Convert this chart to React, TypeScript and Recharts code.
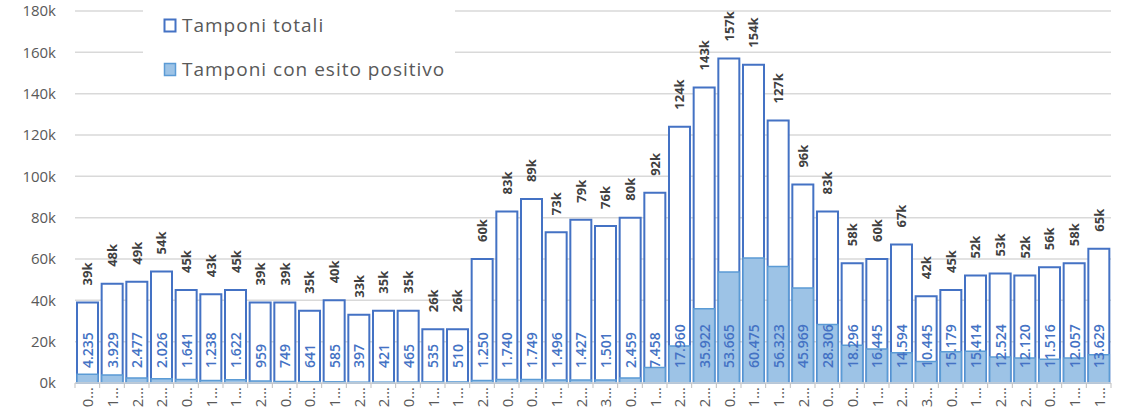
import React from "react";
import {
  BarChart,
  Bar,
  XAxis,
  YAxis,
  CartesianGrid,
  Legend,
  LabelList,
} from "recharts";

// etichette asse x (troncate come nel grafico originale)
const categories = [
  "0…", "1…", "2…", "2…", "0…", "1…", "1…", "2…", "0…", "0…", "1…", "2…", "2…", "0…",
  "1…", "1…", "2…", "0…", "0…", "1…", "2…", "3…", "0…", "1…", "2…", "2…", "0…", "1…",
  "1…", "2…", "0…", "0…", "1…", "2…", "3…", "0…", "1…", "2…", "2…", "0…", "1…", "1…",
];

// tamponi totali (migliaia)
const totali = [
  39, 48, 49, 54, 45, 43, 45, 39, 39, 35, 40, 33, 35, 35, 26, 26, 60, 83, 89, 73, 79,
  76, 80, 92, 124, 143, 157, 154, 127, 96, 83, 58, 60, 67, 42, 45, 52, 53, 52, 56, 58, 65,
];

// tamponi con esito positivo
const positivi = [
  4235, 3929, 2477, 2026, 1641, 1238, 1622, 959, 749, 641, 585, 397, 421, 465, 535, 510,
  1250, 1740, 1749, 1496, 1427, 1501, 2459, 7458, 17960, 35922, 53665, 60475, 56323,
  45969, 28306, 18296, 16445, 14594, 10445, 15179, 15414, 12524, 12120, 11516, 12057, 13629,
];

const yTicks = [0, 20000, 40000, 60000, 80000, 100000, 120000, 140000, 160000, 180000];

const data = categories.map((cat, i) => ({
  cat,
  totale: totali[i] * 1000,
  positivo: positivi[i],
}));

const FONT = "'Open Sans', sans-serif";
const W = 1127;
const H = 408;
const LEFT = 75;
const RIGHT = 16;
const band = (W - LEFT - RIGHT) / categories.length;

const fmtIt = (v: number) => String(v).replace(/\B(?=(\d{3})+(?!\d))/g, ".");

const XTick = (props: any) => {
  const { x, y, payload, index } = props;
  const top = y - 8;
  return (
    <g>
      <line x1={x - band / 2} x2={x - band / 2} y1={top} y2={top + 5} stroke="#bfbfbf" />
      {index === categories.length - 1 && (
        <line x1={x + band / 2} x2={x + band / 2} y1={top} y2={top + 5} stroke="#bfbfbf" />
      )}
      <text
        x={x}
        y={top + 4}
        transform={`rotate(-90, ${x}, ${top + 4})`}
        textAnchor="end"
        dominantBaseline="central"
        fill="#595959"
        fontSize={15}
        fontFamily={FONT}
      >
        {payload.value}
      </text>
    </g>
  );
};

const TotLabel = (props: any) => {
  const { x, y, width, value } = props;
  const cx = x + width / 2;
  const cy = y - 17;
  return (
    <text
      x={cx}
      y={cy}
      transform={`rotate(-90, ${cx}, ${cy})`}
      textAnchor="start"
      dominantBaseline="central"
      fill="#404040"
      fontWeight="bold"
      fontSize={13}
      fontFamily={FONT}
    >
      {Math.round(value / 1000) + "k"}
    </text>
  );
};

const PosLabel = (props: any) => {
  const { x, y, width, height, value } = props;
  const cx = x + width / 2;
  const cy = y + height - 15;
  return (
    <text
      x={cx}
      y={cy}
      transform={`rotate(-90, ${cx}, ${cy})`}
      textAnchor="start"
      dominantBaseline="central"
      fill="#4472C4"
      fontSize={14}
      fontWeight={600}
      fontFamily={FONT}
    >
      {fmtIt(value)}
    </text>
  );
};

const LegendBox = () => (
  <svg width={312} height={88}>
    <rect x={21.5} y={19.5} width={11} height={12} fill="#fff" stroke="#4472C4" strokeWidth={2} />
    <text x={39} y={32} fill="#595959" fontSize={19} letterSpacing={1} fontFamily={FONT}>
      Tamponi totali
    </text>
    <rect x={21.5} y={63.5} width={11} height={12} fill="#9DC3E6" stroke="#5B9BD5" strokeWidth={1.5} />
    <text x={39} y={76} fill="#595959" fontSize={19} letterSpacing={1} fontFamily={FONT}>
      Tamponi con esito positivo
    </text>
  </svg>
);

const App = () => {
  return (
    <div style={{ position: "absolute", left: 0, top: 0, width: W, height: H, background: "#fff" }}>
      <BarChart
        width={W}
        height={H}
        data={data}
        margin={{ top: 11, right: RIGHT, bottom: 0, left: 0 }}
        barCategoryGap={2}
      >
        <CartesianGrid vertical={false} stroke="#d9d9d9" strokeWidth={1.5} />
        <XAxis
          xAxisId="main"
          dataKey="cat"
          height={25}
          interval={0}
          tickLine={false}
          axisLine={{ stroke: "#d9d9d9", strokeWidth: 1.5 }}
          tick={<XTick />}
        />
        <XAxis xAxisId="over" dataKey="cat" hide />
        <YAxis
          width={LEFT}
          domain={[0, 180000]}
          ticks={yTicks}
          interval={0}
          axisLine={false}
          tickLine={false}
          tickMargin={13}
          tickFormatter={(v: number) => v / 1000 + "k"}
          tick={{ fill: "#595959", fontSize: 15, fontFamily: FONT }}
        />
        <Legend
          layout="vertical"
          verticalAlign="middle"
          align="center"
          content={<LegendBox />}
          wrapperStyle={{
            position: "absolute",
            left: 143,
            top: 0,
            width: 312,
            height: 88,
            background: "#fff",
          }}
        />
        <Bar
          xAxisId="main"
          dataKey="totale"
          fill="#ffffff"
          stroke="#4472C4"
          strokeWidth={2}
          isAnimationActive={false}
        >
          <LabelList dataKey="totale" content={<TotLabel />} />
        </Bar>
        <Bar
          xAxisId="over"
          dataKey="positivo"
          fill="#9DC3E6"
          stroke="#5B9BD5"
          strokeWidth={1.5}
          isAnimationActive={false}
        >
          <LabelList dataKey="positivo" content={<PosLabel />} />
        </Bar>
      </BarChart>
    </div>
  );
};

export default App;
